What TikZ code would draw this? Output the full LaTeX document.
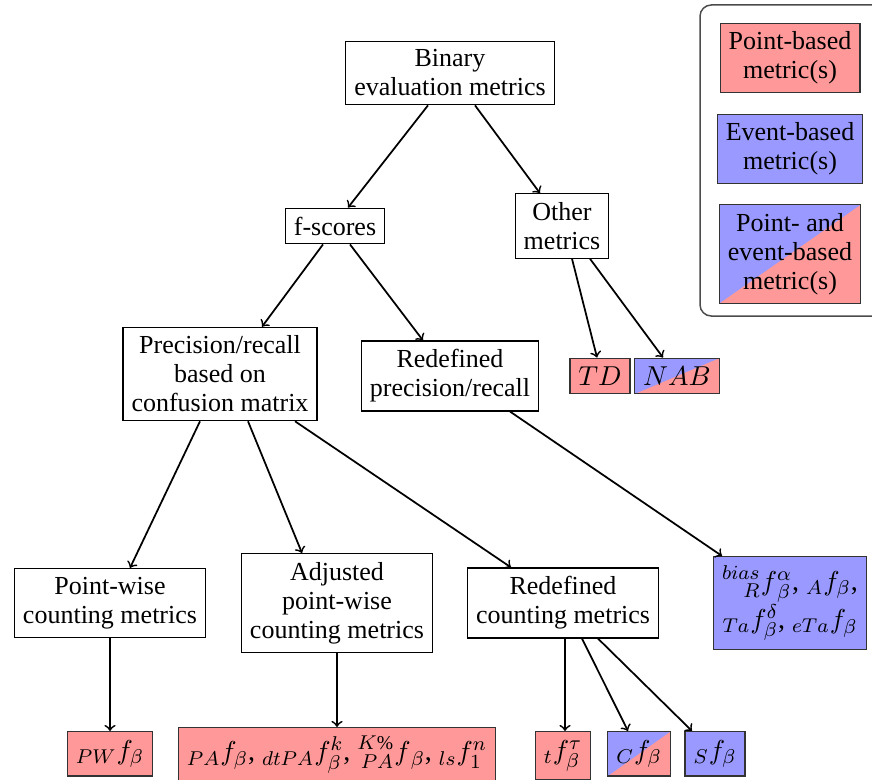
\documentclass[tikz,border=0pt]{standalone}
\usepackage{mathtools}
\usepackage{fontspec}
\setmainfont{Liberation Serif}
\usetikzlibrary{calc}
\definecolor{redc}{RGB}{255,153,153}
\definecolor{bluec}{RGB}{153,153,255}
\tikzset{
  box/.style={draw=black, line width=0.5pt, align=center, inner sep=3.4pt,
    font=\fontsize{10.4}{11.6}\selectfont},
  mathsize/.style={font=\fontsize{11.2}{13}\selectfont},
  redbox/.style={box, fill=redc, draw=black!80},
  bluebox/.style={box, fill=bluec, draw=black!80},
  splitbox/.style={box, draw=black!80, path picture={
    \fill[redc] (path picture bounding box.south west) rectangle (path picture bounding box.north east);
    \fill[bluec] (path picture bounding box.south west) -- (path picture bounding box.north west) -- (path picture bounding box.north east) -- cycle;}},
  conn/.style={->, line width=0.7pt},
}
\begin{document}
\begin{tikzpicture}[x=0.4pt,y=-0.4pt]
\useasboundingbox (0,0) rectangle (872,779);
% legend
\draw[black!70, line width=0.6pt, rounded corners=4.5pt] (700,5) rectangle (900,316);
\node[redbox] (lp) at (790,58) {Point-based\\metric(s)};
\node[bluebox] (le) at (790,149) {Event-based\\metric(s)};
\node[splitbox] (lb) at (790,254) {Point- and\\event-based\\metric(s)};
% tree
\node[box] (bin) at (450,73) {Binary\\evaluation metrics};
\node[box] (fs) at (335,226) {f-scores};
\node[box] (oth) at (562,226) {Other\\metrics};
\node[box] (pr) at (220,374) {Precision/recall\\based on\\confusion matrix};
\node[box] (rpr) at (450,376) {Redefined\\precision/recall};
\node[redbox, mathsize] (td) at (600,376) {$TD$};
\node[splitbox, mathsize] (nab) at (677,376) {$NAB$};
\node[box] (pw) at (110,603) {Point-wise\\counting metrics};
\node[box] (adj) at (337,603) {Adjusted\\point-wise\\counting metrics};
\node[box] (rc) at (563,603) {Redefined\\counting metrics};
\node[bluebox, mathsize] (bias) at (790,603) {$\prescript{bias}{R}{f}^{\alpha}_{\beta}$, ${}_{A}f_{\beta}$,\\ ${}_{Ta}f^{\delta}_{\beta}$, ${}_{eTa}f_{\beta}$};
\node[redbox, mathsize, anchor=north] (pwf) at (110,731) {${}_{PW}f_{\beta}$};
\node[redbox, mathsize, anchor=north] (paf) at (337,727) {${}_{PA}f_{\beta}$, ${}_{dtPA}f^{k}_{\beta}$, $\prescript{K\%}{PA}{f}_{\beta}$, ${}_{ls}f^{n}_{1}$};
\node[redbox, mathsize, anchor=north] (tf) at (563,731) {${}_{t}f^{\tau}_{\beta}$};
\node[splitbox, mathsize, anchor=north] (cf) at (639,731) {${}_{C}f_{\beta}$};
\node[bluebox, mathsize, anchor=north] (sf) at (715,731) {${}_{S}f_{\beta}$};
% connectors
\draw[conn] ($(bin.south)+(-22,0)$) -- ($(fs.north)+(13,0)$);
\draw[conn] ($(bin.south)+(25,0)$) -- ($(oth.north)+(-22,0)$);
\draw[conn] ($(fs.south)+(-12,0)$) -- ($(pr.north)+(42,0)$);
\draw[conn] ($(fs.south)+(15,0)$) -- ($(rpr.north)+(-27,0)$);
\draw[conn] ($(oth.south)+(10,0)$) -- ($(td.north)+(-3,0)$);
\draw[conn] ($(oth.south)+(28,0)$) -- ($(nab.north)+(-14,0)$);
\draw[conn] ($(pr.south)+(-20,0)$) -- ($(pw.north)+(20,0)$);
\draw[conn] ($(pr.south)+(28,0)$) -- ($(adj.north)+(-35,0)$);
\draw[conn] ($(pr.south)+(75,0)$) -- ($(rc.north)+(-52,0)$);
\draw[conn] ($(rpr.south)+(60,0)$) -- ($(bias.north)+(-68,0)$);
\draw[conn] (pw.south) -- (pwf.north);
\draw[conn] (adj.south) -- (paf.north);
\draw[conn] ($(rc.south)+(2,0)$) -- ($(tf.north)+(2,0)$);
\draw[conn] ($(rc.south)+(19,0)$) -- ($(cf.north)+(-11,0)$);
\draw[conn] ($(rc.south)+(35,0)$) -- ($(sf.north)+(-23,0)$);
\end{tikzpicture}
\end{document}
